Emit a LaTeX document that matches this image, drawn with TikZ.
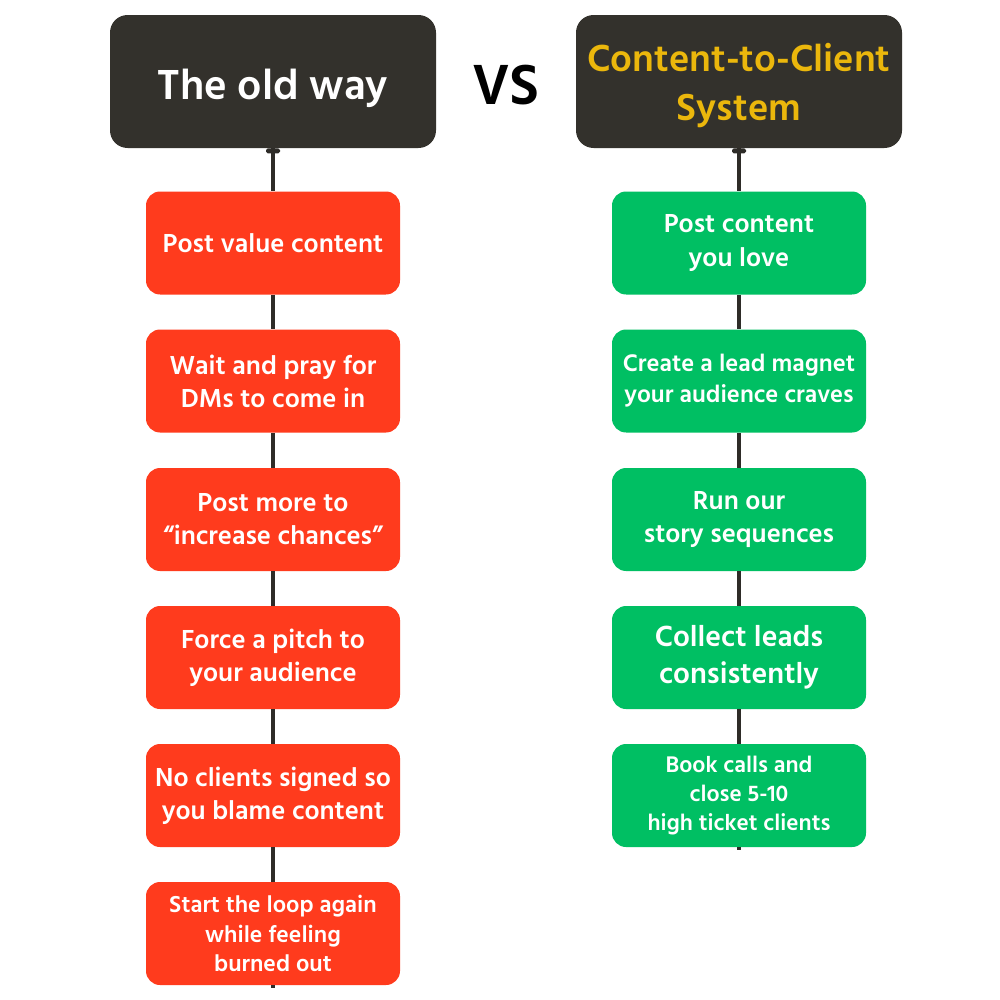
\documentclass[tikz,border=0pt]{standalone}
\usepackage{fontspec}
\setmainfont{Hind Madurai}
\usepackage{tikz}
\usetikzlibrary{positioning}
\definecolor{charcoal}{HTML}{33312C}
\definecolor{wire}{HTML}{2E2C28}
\definecolor{flame}{HTML}{FF3B1D}
\definecolor{mint}{HTML}{00BF63}
\definecolor{honey}{HTML}{EBB70C}

\begin{document}
\begin{tikzpicture}
  \tikzstyle{hd}=[fill=charcoal, rounded corners=10pt,
    minimum width=6.52cm, minimum height=2.66cm, align=center]
  \tikzstyle{st}=[rounded corners=8pt, text=white,
    minimum width=5.08cm, minimum height=2.06cm, align=center,
    font=\bfseries\fontsize{15.2}{18.8}\selectfont]
  \tikzstyle{ln}=[line width=2pt, wire]

  \fill[white] (0,0) rectangle (20,-20);
  \useasboundingbox (0,0) rectangle (20,-20);

  % headers
  \node[hd, text=white, font=\bfseries\fontsize{24.5}{28}\selectfont]
    (old) at (5.46,-1.63) {\rule{0pt}{25pt}The old way};
  \node[hd, text=honey, font=\bfseries\fontsize{22}{28}\selectfont]
    (sys) at (14.78,-1.63) {\rule{0pt}{21pt}Content-to-Client\\System};
  \node[font=\bfseries\fontsize{33}{36}\selectfont] (vs) at (10.12,-1.7) {VS};

  % old way
  \node[st, fill=flame] (o1) at (5.46,-4.86) {Post value content};
  \node[st, fill=flame] (o2) at (5.46,-7.62) {Wait and pray for\\DMs to come in};
  \node[st, fill=flame] (o3) at (5.46,-10.39) {Post more to\\``increase chances''};
  \node[st, fill=flame] (o4) at (5.46,-13.15) {Force a pitch to\\your audience};
  \node[st, fill=flame] (o5) at (5.46,-15.91) {No clients signed so\\you blame content};
  \node[st, fill=flame, font=\bfseries\fontsize{13.5}{17}\selectfont]
    (o6) at (5.46,-18.67) {Start the loop again\\while feeling\\burned out};

  % system
  \node[st, fill=mint] (n1) at (14.78,-4.86) {Post content\\you love};
  \node[st, fill=mint, font=\bfseries\fontsize{14}{17.6}\selectfont]
    (n2) at (14.78,-7.62) {Create a lead magnet\\your audience craves};
  \node[st, fill=mint] (n3) at (14.78,-10.39) {Run our\\story sequences};
  \node[st, fill=mint, font=\bfseries\fontsize{17}{21}\selectfont]
    (n4) at (14.78,-13.15) {Collect leads\\consistently};
  \node[st, fill=mint, font=\bfseries\fontsize{13.2}{16.5}\selectfont]
    (n5) at (14.78,-15.91) {Book calls and\\close 5-10\\high ticket clients};

  % connectors
  \fill[wire, rounded corners=1pt] ([xshift=-0.14cm]old.south) rectangle ++(0.28,-0.1);
  \fill[wire, rounded corners=1pt] ([xshift=-0.14cm]sys.south) rectangle ++(0.28,-0.1);
  \draw[ln] (old)--(o1);
  \draw[ln] (o1)--(o2);
  \draw[ln] (o2)--(o3);
  \draw[ln] (o3)--(o4);
  \draw[ln] (o4)--(o5);
  \draw[ln] (o5)--(o6);
  \draw[ln] (o6.south)--++(0,-0.06);
  \draw[ln] (sys)--(n1);
  \draw[ln] (n1)--(n2);
  \draw[ln] (n2)--(n3);
  \draw[ln] (n3)--(n4);
  \draw[ln] (n4)--(n5);
  \draw[ln] (n5.south)--++(0,-0.06);
\end{tikzpicture}
\end{document}
